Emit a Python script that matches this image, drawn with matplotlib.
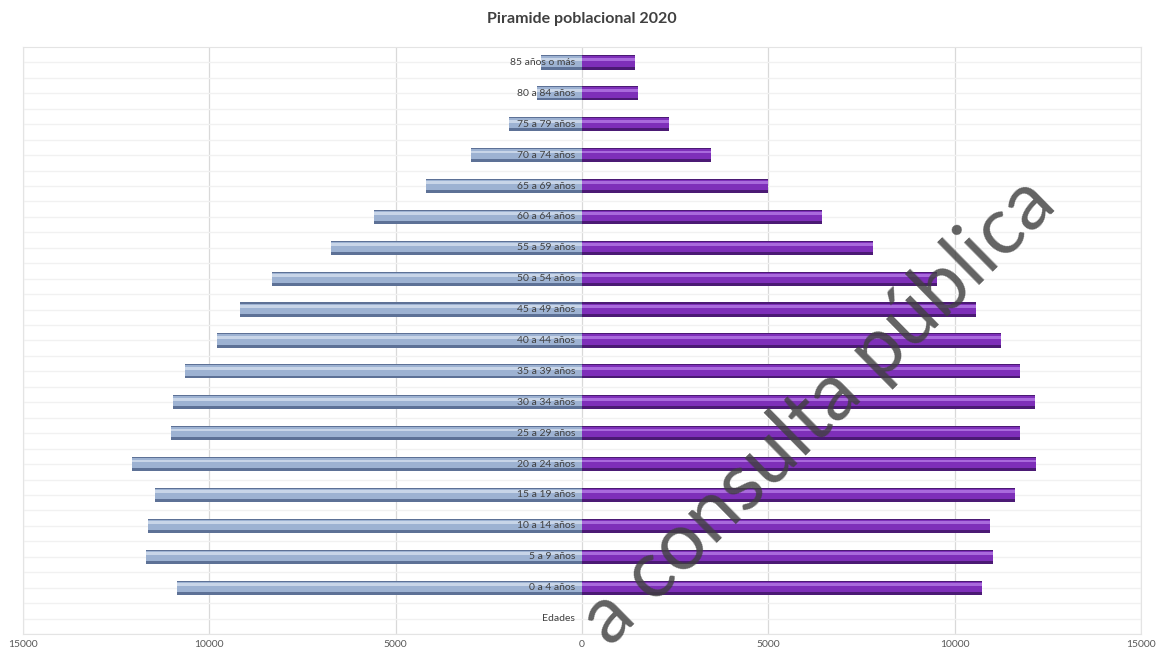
import matplotlib
import numpy as np

matplotlib.use("Agg")
import matplotlib.pyplot as plt

plt.rcParams["font.family"] = ["Lato", "DejaVu Sans"]

# datos (de abajo hacia arriba)
edades = [
    "0 a 4 años", "5 a 9 años", "10 a 14 años", "15 a 19 años", "20 a 24 años",
    "25 a 29 años", "30 a 34 años", "35 a 39 años", "40 a 44 años", "45 a 49 años",
    "50 a 54 años", "55 a 59 años", "60 a 64 años", "65 a 69 años", "70 a 74 años",
    "75 a 79 años", "80 a 84 años", "85 años o más",
]
hombres = [10870, 11700, 11640, 11460, 12070, 11030, 10970, 10650, 9790, 9180,
           8320, 6730, 5580, 4190, 2980, 1960, 1200, 1100]
mujeres = [10730, 11030, 10950, 11620, 12180, 11750, 12150, 11750, 11240, 10570,
           9520, 7810, 6440, 4990, 3460, 2330, 1500, 1420]
eje_titulo = "Edades"
ticks_x = [-15000, -10000, -5000, 0, 5000, 10000, 15000]
tick_labels = ["15000", "10000", "5000", "0", "5000", "10000", "15000"]

fig = plt.figure(figsize=(11.57, 6.58), dpi=100)
ax = fig.add_axes([0.0199, 0.0365, 0.9663, 0.8921])

y = np.arange(1, len(edades) + 1)
izq = -np.array(hombres)
der = np.array(mujeres)
h = 0.46

# barras con efecto cilindro (capas)
for vals, dark, mid, light in [
    (izq, "#5d7196", "#9db2d2", "#d3deee"),
    (der, "#4b1a74", "#7e2fb9", "#b57ae6"),
]:
    ax.barh(y, vals, height=h, color=dark, zorder=3)
    ax.barh(y + 0.03, vals, height=h * 0.72, color=mid, zorder=3.1)
    ax.barh(y + 0.1, vals, height=h * 0.2, color=light, zorder=3.2, alpha=0.8)

for yi, lab in zip(y, edades):
    ax.text(-180, yi, lab, ha="right", va="center", fontsize=7.5,
            color="#404040", zorder=5)
ax.text(-180, 0, eje_titulo, ha="right", va="center", fontsize=7.5,
        color="#404040", zorder=5)

ax.set_xlim(-15000, 15000)
ax.set_ylim(-0.5, len(edades) + 0.5)
ax.set_xticks(ticks_x)
ax.set_xticklabels(tick_labels, fontsize=7.5, color="#595959")
ax.tick_params(axis="x", length=0, pad=4)
ax.set_yticks([])
ax.set_yticks(np.arange(-0.5, len(edades) + 0.5, 0.5), minor=True)
ax.tick_params(axis="y", which="minor", length=0)
ax.grid(axis="x", color="#d9d9d9", lw=0.9, zorder=0)
ax.grid(axis="y", which="minor", color="#f1f1f1", lw=1.0, zorder=0)
ax.set_axisbelow(True)
for s in ax.spines.values():
    s.set_color("#e4e4e4")
    s.set_linewidth(0.8)

ax.set_title("Piramide poblacional 2020", fontsize=11.5, fontweight="bold",
             color="#404040", pad=17)

# marca de agua
fig.text(0.707, 0.375, "a consulta pública", fontsize=58, color="#404040",
         alpha=0.82, rotation=44.5, ha="center", va="center", zorder=10)

fig.savefig("out.png", dpi=100)
